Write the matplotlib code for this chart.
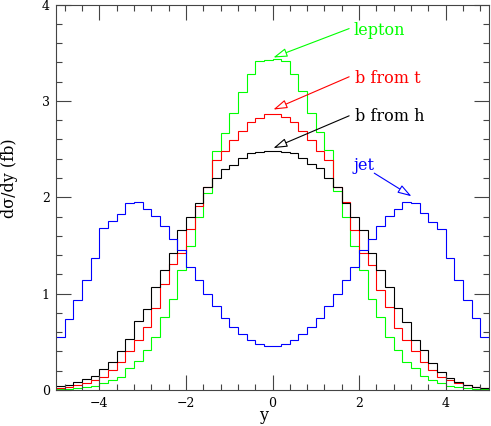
import numpy as np
import matplotlib
matplotlib.use("Agg")
import matplotlib.pyplot as plt

# bin edges of the rapidity histograms (50 bins, width 0.2)
bin_edges = np.round(np.arange(-5.0, 5.0001, 0.2), 1)

lepton = [0.008, 0.012, 0.02, 0.03, 0.041, 0.069, 0.104, 0.138, 0.225, 0.30,
          0.41, 0.553, 0.755, 0.94, 1.245, 1.49, 1.79, 2.04, 2.48, 2.67,
          2.875, 3.095, 3.278, 3.41, 3.425,
          3.43, 3.41, 3.278, 3.10, 2.877, 2.68, 2.49, 2.06, 1.80, 1.49,
          1.245, 0.94, 0.76, 0.555, 0.415, 0.29, 0.225, 0.15, 0.104, 0.069,
          0.042, 0.03, 0.02, 0.012, 0.008]

b_from_t = [0.025, 0.035, 0.05, 0.07, 0.105, 0.14, 0.21, 0.29, 0.40, 0.52,
            0.65, 0.855, 1.10, 1.307, 1.418, 1.667, 1.91, 2.105, 2.39, 2.475,
            2.59, 2.69, 2.78, 2.825, 2.865,
            2.865, 2.83, 2.78, 2.69, 2.59, 2.48, 2.386, 2.11, 1.954, 1.66,
            1.418, 1.297, 1.037, 0.86, 0.645, 0.519, 0.40, 0.29, 0.207, 0.138,
            0.104, 0.069, 0.048, 0.035, 0.024]

b_from_h = [0.04, 0.055, 0.08, 0.11, 0.147, 0.214, 0.292, 0.408, 0.524, 0.72,
            0.845, 1.068, 1.248, 1.426, 1.656, 1.79, 1.943, 2.105, 2.203, 2.295,
            2.337, 2.412, 2.462, 2.47, 2.475,
            2.475, 2.47, 2.462, 2.41, 2.34, 2.30, 2.20, 2.105, 1.94, 1.79,
            1.655, 1.425, 1.245, 1.065, 0.847, 0.709, 0.519, 0.415, 0.277, 0.19,
            0.121, 0.086, 0.052, 0.035, 0.024]

jet = [0.55, 0.74, 0.93, 1.14, 1.37, 1.68, 1.75, 1.83, 1.945, 1.95,
       1.88, 1.805, 1.705, 1.57, 1.45, 1.28, 1.14, 1.00, 0.875, 0.745,
       0.655, 0.58, 0.515, 0.475, 0.455,
       0.455, 0.475, 0.52, 0.58, 0.65, 0.745, 0.875, 1.0, 1.14, 1.28,
       1.45, 1.565, 1.705, 1.81, 1.88, 1.95, 1.945, 1.835, 1.745, 1.675,
       1.365, 1.14, 0.93, 0.745, 0.545]

series_names = ["lepton", "b from t", "b from h", "jet"]
series_colors = ["#00ff00", "#ff0000", "#000000", "#0000ff"]

FONT = "DejaVu Serif"

fig = plt.figure(figsize=(4.91, 4.26), dpi=100)
ax = fig.add_axes([56 / 491, 36 / 426, 433 / 491, 385.5 / 426])

for vals, col in zip([lepton, b_from_t, b_from_h, jet], series_colors):
    ax.stairs(vals, bin_edges, baseline=None, color=col, lw=0.8)

ax.set_xlim(-5, 5)
ax.set_ylim(0, 4)
ax.set_xticks([-4, -2, 0, 2, 4])
ax.set_xticks(np.arange(-4.8, 5.0, 0.4), minor=True)
ax.set_yticks([0, 1, 2, 3, 4])
ax.set_yticks(np.arange(0, 4.01, 0.2), minor=True)
ax.tick_params(which="both", direction="in", top=True, right=True,
               color="#444444", width=0.8)
ax.tick_params(which="major", length=10.5)
ax.tick_params(which="minor", length=4)
ax.tick_params(axis="x", which="major", pad=5, labelsize=9)
ax.tick_params(axis="y", which="major", pad=4.5, labelsize=9)
for lab in ax.get_xticklabels() + ax.get_yticklabels():
    lab.set_fontfamily(FONT)
for sp in ax.spines.values():
    sp.set_color("#444444")
    sp.set_linewidth(0.8)

xl = ax.set_xlabel("y", fontfamily=FONT, fontsize=11.5)
xl.set_verticalalignment("center")
ax.xaxis.set_label_coords(0.48, -0.066)
ax.set_ylabel("dσ/dy (fb)", fontfamily=FONT, fontsize=11.5)
ax.yaxis.set_label_coords(-0.088, 0.55)

# annotations: label text position, arrow tail, arrow tip (data coords)
label_pos = [(1.88, 3.73), (1.90, 3.23), (1.90, 2.835), (1.88, 2.33)]
arrow_tail = [(1.77, 3.75), (1.77, 3.25), (1.77, 2.845), (2.35, 2.25)]
arrow_tip = [(0.02, 3.45), (0.02, 2.91), (0.02, 2.51), (3.21, 2.01)]

for name, col, lp, tail, tip in zip(series_names, series_colors,
                                    label_pos, arrow_tail, arrow_tip):
    ax.text(lp[0], lp[1], name, color=col, fontfamily=FONT, fontsize=11.5,
            ha="left", va="center")
    ax.annotate("", xy=tip, xytext=tail,
                arrowprops=dict(arrowstyle="-|>,head_length=0.7,head_width=0.22",
                                fc="white", ec=col, lw=0.8,
                                shrinkA=0, shrinkB=0, mutation_scale=12))

fig.savefig("out.png", dpi=100)
